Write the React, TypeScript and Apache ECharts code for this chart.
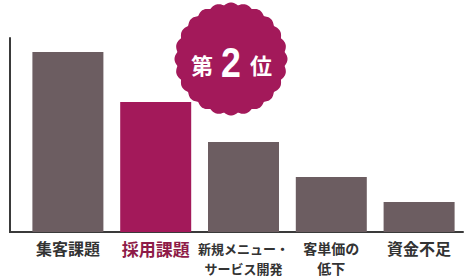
import React, { useEffect, useRef } from "react";
import * as echarts from "echarts";

const categories = ["集客課題", "採用課題", "新規メニュー・\nサービス開発", "客単価の\n低下", "資金不足"];
const values = [92.8, 67, 46.4, 28.4, 15.5];
const highlightIndex = 1;
const badgeText = ["第", "2", "位"];

const GRAY = "#6c5d61";
const CRIMSON = "#a3195a";

function scallopPoints(cx: number, cy: number, r: number, amp: number, n: number) {
  const pts: number[][] = [];
  const steps = 360;
  for (let i = 0; i < steps; i++) {
    const t = (i / steps) * Math.PI * 2;
    const rr = r + amp * Math.abs(Math.cos((n / 2) * t));
    pts.push([cx + rr * Math.cos(t), cy + rr * Math.sin(t)]);
  }
  return pts;
}

export default function App() {
  const ref = useRef<HTMLDivElement>(null);
  useEffect(() => {
    if (!ref.current) return;
    const chart = echarts.init(ref.current, null, { renderer: "svg" });
    const gridLeft = 24;
    const gridTop = 38;
    const gridBottom = 278 - 232;
    const base = { fontWeight: "bold", color: "#333333", lineHeight: 20, fontFamily: "Noto Sans CJK JP" };
    chart.setOption({
      animation: false,
      backgroundColor: "#ffffff",
      grid: { left: gridLeft, right: 2, top: gridTop, bottom: gridBottom, containLabel: false },
      xAxis: {
        type: "category",
        data: categories,
        axisLine: { show: true, lineStyle: { color: "#3a3a3a", width: 2 } },
        axisTick: { show: false },
        axisLabel: {
          interval: 0,
          margin: 6,
          fontFamily: "Noto Sans CJK JP",
          formatter: (v: string, i: number) => {
            const lines = v.split("\n");
            let style = "a";
            if (i === highlightIndex) style = "h";
            else if (/[ァ-ヶー]/.test(v)) style = "k";
            else if (lines.length > 1) style = "m";
            return lines.map((l) => `{${style}|${l}}`).join("\n");
          },
          rich: {
            a: { ...base, fontSize: 16 },
            m: { ...base, fontSize: 14 },
            k: { ...base, fontSize: 13 },
            h: { ...base, fontSize: 17, color: "#8e1b48" },
          },
        },
      },
      yAxis: {
        type: "value",
        min: 0,
        max: 100,
        offset: 14,
        axisLine: { show: true, lineStyle: { color: "#3a3a3a", width: 2 } },
        axisTick: { show: false },
        axisLabel: { show: false },
        splitLine: { show: false },
      },
      series: [
        {
          type: "bar",
          data: values.map((v, i) => ({
            value: v,
            itemStyle: { color: i === highlightIndex ? CRIMSON : GRAY },
          })),
          barWidth: 71,
        },
      ],
      graphic: [
        {
          type: "line",
          shape: { x1: 9, y1: 232, x2: gridLeft, y2: 232 },
          style: { stroke: "#3a3a3a", lineWidth: 2 },
        },
        {
          type: "polygon",
          shape: { points: scallopPoints(231, 59, 54, 2.5, 24) },
          style: { fill: CRIMSON },
          z: 10,
        },
        {
          type: "text",
          x: 202,
          y: 64,
          z: 11,
          style: {
            text: badgeText[0],
            fill: "#ffffff",
            font: "bold 22px 'Noto Sans CJK JP'",
            align: "center",
            verticalAlign: "middle",
          },
        },
        {
          type: "text",
          x: 231,
          y: 62,
          z: 11,
          scaleX: 0.85,
          style: {
            text: badgeText[1],
            fill: "#ffffff",
            font: "bold 42px 'Liberation Sans'",
            align: "center",
            verticalAlign: "middle",
          },
        },
        {
          type: "text",
          x: 261,
          y: 64,
          z: 11,
          style: {
            text: badgeText[2],
            fill: "#ffffff",
            font: "bold 22px 'Noto Sans CJK JP'",
            align: "center",
            verticalAlign: "middle",
          },
        },
      ],
    });
    return () => chart.dispose();
  }, []);
  return <div ref={ref} style={{ width: 465, height: 278, position: "fixed", left: 0, top: 0 }} />;
}
